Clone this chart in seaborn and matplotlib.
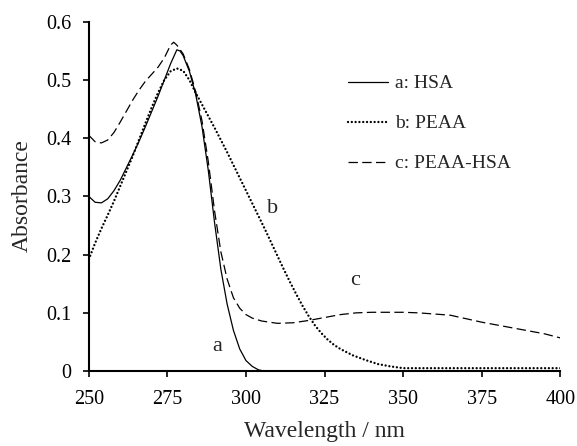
import matplotlib
matplotlib.use("Agg")
import matplotlib.pyplot as plt
import seaborn as sns
import pandas as pd

# ---- data ----
hsa_wl = [250, 252, 254, 256, 258, 260, 262, 264, 266, 268, 270, 272, 274, 276, 277, 278, 279,
          280, 282, 284, 286, 288, 290, 292, 294, 296, 298, 300, 302, 304, 306, 400]
hsa_abs = [0.300, 0.290, 0.289, 0.296, 0.310, 0.328, 0.350, 0.372, 0.395, 0.420, 0.446, 0.472,
           0.500, 0.528, 0.540, 0.552, 0.550, 0.542, 0.515, 0.475, 0.420, 0.345, 0.255, 0.175,
           0.115, 0.070, 0.038, 0.018, 0.008, 0.002, 0.0, 0.0]

peaa_wl = [250, 252, 254, 256, 258, 260, 262, 264, 266, 268, 270, 272, 274, 276, 278, 280, 282,
           284, 286, 288, 290, 292, 294, 296, 298, 300, 302, 304, 306, 308, 310, 312, 314, 316,
           318, 320, 322, 324, 326, 328, 330, 334, 338, 342, 346, 350, 400]
peaa_abs = [0.192, 0.220, 0.245, 0.268, 0.292, 0.318, 0.344, 0.370, 0.398, 0.426, 0.453, 0.478,
            0.500, 0.515, 0.520, 0.516, 0.500, 0.478, 0.458, 0.438, 0.418, 0.397, 0.376, 0.354,
            0.332, 0.310, 0.288, 0.266, 0.244, 0.221, 0.198, 0.175, 0.153, 0.132, 0.112, 0.094,
            0.078, 0.065, 0.054, 0.045, 0.038, 0.027, 0.019, 0.012, 0.008, 0.005, 0.005]

mix_wl = [250, 252, 254, 256, 258, 260, 262, 264, 266, 268, 270, 272, 274, 276, 277, 278, 280,
          282, 284, 286, 288, 290, 292, 294, 296, 298, 300, 302, 305, 310, 315, 320, 325, 330,
          335, 340, 345, 350, 355, 360, 365, 370, 375, 380, 385, 390, 395, 400]
mix_abs = [0.405, 0.394, 0.392, 0.397, 0.410, 0.428, 0.447, 0.466, 0.483, 0.498, 0.510, 0.522,
           0.538, 0.560, 0.565, 0.560, 0.545, 0.518, 0.480, 0.430, 0.360, 0.275, 0.205, 0.158,
           0.126, 0.108, 0.097, 0.091, 0.086, 0.082, 0.083, 0.087, 0.092, 0.097, 0.100, 0.101,
           0.101, 0.101, 0.100, 0.098, 0.096, 0.090, 0.084, 0.079, 0.074, 0.069, 0.064, 0.057]

series_labels = ["a: HSA", "b: PEAA", "c: PEAA-HSA"]
curve_tags = ["a", "b", "c"]
x_ticks = [250, 275, 300, 325, 350, 375, 400]
y_ticks = [0, 0.1, 0.2, 0.3, 0.4, 0.5, 0.6]
y_tick_labels = ["0", "0.1", "0.2", "0.3", "0.4", "0.5", "0.6"]

# ---- plotting ----
sns.set_style("ticks")
plt.rcParams['font.family'] = ['Liberation Serif', 'DejaVu Serif']

fig = plt.figure(figsize=(5.77, 4.46), dpi=100)
ax = fig.add_axes([0.154, 0.168, 0.817, 0.783])

df_a = pd.DataFrame({"wl": hsa_wl, "A": hsa_abs})
df_b = pd.DataFrame({"wl": peaa_wl, "A": peaa_abs})
df_c = pd.DataFrame({"wl": mix_wl, "A": mix_abs})

sns.lineplot(data=df_a, x="wl", y="A", ax=ax, color="black", linewidth=0.9,
             linestyle="-", label=series_labels[0], estimator=None, sort=False)
sns.lineplot(data=df_b, x="wl", y="A", ax=ax, color="black", linewidth=1.7,
             linestyle=(0, (0.01, 1.6)), label=series_labels[1], estimator=None, sort=False,
             dash_capstyle="round")
sns.lineplot(data=df_c, x="wl", y="A", ax=ax, color="black", linewidth=0.9,
             linestyle=(0, (7.5, 3.5)), label=series_labels[2], estimator=None, sort=False)

ax.set_xlim(250, 400)
ax.set_ylim(0, 0.6)
ax.set_xticks(x_ticks)
ax.set_xticklabels([str(t) for t in x_ticks])
ax.set_yticks(y_ticks)
ax.set_yticklabels(y_tick_labels)
ax.tick_params(axis="both", direction="out", length=4.5, width=1.2, labelsize=14.5,
               colors="black")
ax.tick_params(axis="x", pad=9)
ax.tick_params(axis="y", pad=8)
for s in ["top", "right"]:
    ax.spines[s].set_visible(False)
for s in ["left", "bottom"]:
    ax.spines[s].set_linewidth(1.5)
    ax.spines[s].set_color("black")

ax.set_xlabel("Wavelength / nm", fontsize=17)
ax.set_ylabel("Absorbance", fontsize=17)
ax.xaxis.set_label_coords((324 - 89) / 471, -(421 - 371) / 349)
ax.yaxis.set_label_coords(-(89 - 33) / 471, (371 - 196) / 349)

ax.text(290.8, 0.043, curve_tags[0], fontsize=16, ha="center", va="center")
ax.text(308.6, 0.280, curve_tags[1], fontsize=16, ha="center", va="center")
ax.text(334.7, 0.156, curve_tags[2], fontsize=16, ha="center", va="center")

leg = ax.legend(frameon=False, fontsize=14, loc="upper left",
                bbox_to_anchor=((348 - 89) / 471, (371 - 75) / 349),
                borderaxespad=0, borderpad=0,
                handlelength=2.07, handletextpad=0.36, labelspacing=1.15)

fig.savefig("out.png", dpi=100, facecolor="white")
